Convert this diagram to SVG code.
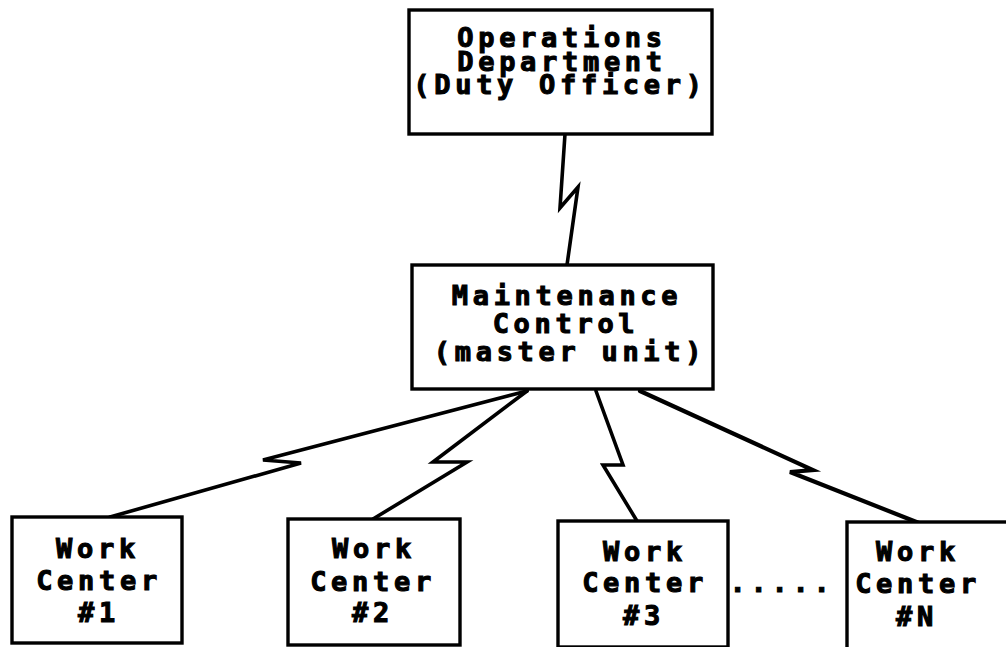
<svg xmlns="http://www.w3.org/2000/svg" width="1006" height="647" viewBox="0 0 1006 647">
  <style>
    .box { fill: #fff; stroke: #000; stroke-width: 3.4; stroke-linejoin: miter; }
    .link { fill: none; stroke: #000; stroke-width: 3.6; stroke-linejoin: miter; stroke-linecap: round; }
    .lbl { font-family: "DejaVu Sans Mono", "Liberation Mono", monospace; font-weight: bold; font-size: 27px; letter-spacing: 4.7px; fill: #000; stroke: #000; stroke-width: 1.1; text-anchor: middle; }
  </style>
  <rect width="1006" height="647" fill="#fff"/>

  <!-- radio links between units -->
  <g id="connectors">
    <path class="link" d="M565,134 L560,208 L578,187 L567,265"/>
    <path class="link" d="M527,391 L263,460 L301,463 L110,517"/>
    <path class="link" d="M527,391 L433,462 L467,462 L373,519"/>
    <path class="link" d="M596,391 L623,465 L603,465 L637,521"/>
    <path class="link" d="M640,391 L813,470 L790,472 L919,523" style="stroke-width:4.2"/>
  </g>

  <g id="ops-dept">
    <rect class="box" x="409" y="10" width="303" height="124"/>
    <text class="lbl" x="562" y="47">Operations</text>
    <text class="lbl" x="562" y="71">Department</text>
    <text class="lbl" x="560" y="94">(Duty Officer)</text>
  </g>

  <g id="maint-control">
    <rect class="box" x="412" y="265" width="301" height="124"/>
    <text class="lbl" x="567" y="305">Maintenance</text>
    <text class="lbl" x="566" y="333">Control</text>
    <text class="lbl" x="570" y="361">(master unit)</text>
  </g>

  <g id="work-center-1">
    <rect class="box" x="12" y="517" width="170" height="126"/>
    <text class="lbl" x="98" y="558">Work</text>
    <text class="lbl" x="99" y="590">Center</text>
    <text class="lbl" x="99" y="622">#1</text>
  </g>

  <g id="work-center-2">
    <rect class="box" x="288" y="519" width="172" height="126"/>
    <text class="lbl" x="374" y="558">Work</text>
    <text class="lbl" x="373" y="591">Center</text>
    <text class="lbl" x="373" y="622">#2</text>
  </g>

  <g id="work-center-3">
    <rect class="box" x="558" y="521" width="170" height="126"/>
    <text class="lbl" x="645" y="561">Work</text>
    <text class="lbl" x="645" y="592">Center</text>
    <text class="lbl" x="644" y="625">#3</text>
  </g>

  <g id="ellipsis">
    <text class="lbl" x="782" y="592">.....</text>
  </g>

  <g id="work-center-n">
    <rect class="box" x="847" y="522" width="170" height="128"/>
    <text class="lbl" x="918" y="561">Work</text>
    <text class="lbl" x="918" y="593">Center</text>
    <text class="lbl" x="917" y="626">#N</text>
  </g>
</svg>
